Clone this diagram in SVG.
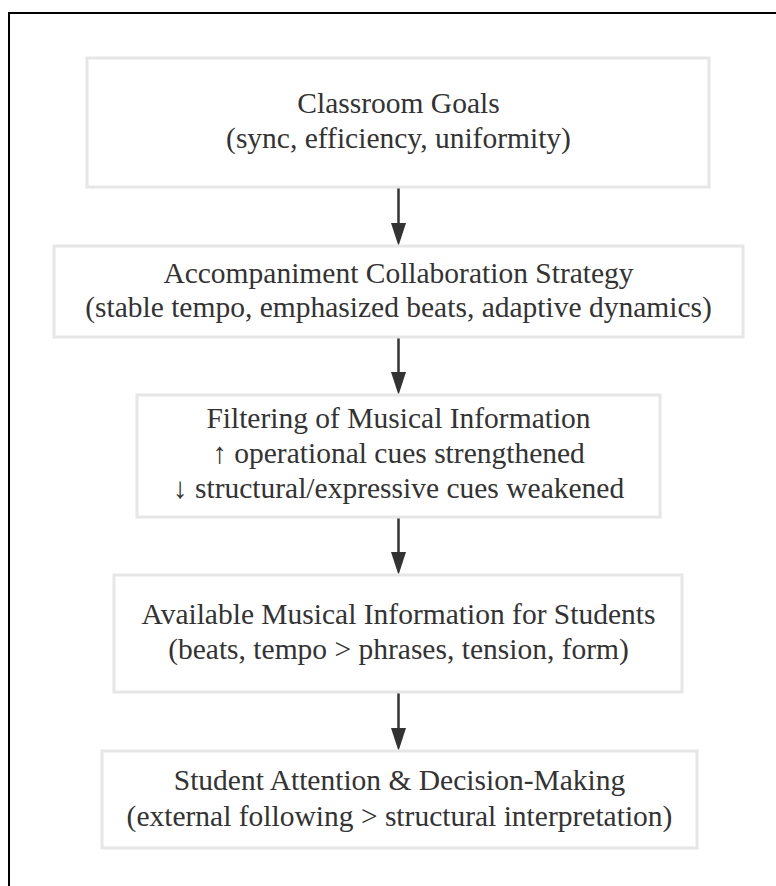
<svg xmlns="http://www.w3.org/2000/svg" width="776" height="886" viewBox="0 0 776 886">
<style>
.box{fill:#ffffff;stroke:#e6e6e6;stroke-width:3}
.t{font-family:"Liberation Serif","Times New Roman",serif;font-size:29.5px;fill:#333333;text-anchor:middle}
.edge{stroke:#333333;stroke-width:2.5;fill:none}
</style>
<defs>
<marker id="ah" markerUnits="userSpaceOnUse" markerWidth="16" markerHeight="24" refX="15" refY="8" orient="auto" viewBox="0 0 16 16">
<path d="M0,0 L15,8 L0,16 Z" fill="#333333"/>
</marker>
</defs>
<rect x="0" y="0" width="776" height="886" fill="#ffffff"/>
<rect x="9" y="13" width="800" height="900" fill="none" stroke="#000000" stroke-width="2"/>
<g id="connectors">
<path class="edge" d="M398.5,188 L398.5,224"/>
<path d="M391,223 L406,223 L398.5,246 Z" fill="#333333"/>
<path class="edge" d="M398.5,338 L398.5,373"/>
<path d="M391,372 L406,372 L398.5,395 Z" fill="#333333"/>
<path class="edge" d="M398.5,518 L398.5,553"/>
<path d="M391,552 L406,552 L398.5,575 Z" fill="#333333"/>
<path class="edge" d="M398.5,693 L398.5,729"/>
<path d="M391,728 L406,728 L398.5,751 Z" fill="#333333"/>
</g>
<g id="node1">
<rect class="box" x="87" y="58" width="622" height="129"/>
<text class="t" x="398.5" y="113">Classroom Goals</text>
<text class="t" x="398.5" y="148">(sync, efficiency, uniformity)</text>
</g>
<g id="node2">
<rect class="box" x="54" y="246" width="689" height="91"/>
<text class="t" x="398.5" y="283">Accompaniment Collaboration Strategy</text>
<text class="t" x="398.5" y="317">(stable tempo, emphasized beats, adaptive dynamics)</text>
</g>
<g id="node3">
<rect class="box" x="137" y="395" width="523" height="122"/>
<text class="t" x="398.5" y="428">Filtering of Musical Information</text>
<text class="t" x="398.5" y="463">↑ operational cues strengthened</text>
<text class="t" x="398.5" y="498">↓ structural/expressive cues weakened</text>
</g>
<g id="node4">
<rect class="box" x="114" y="575" width="568" height="117"/>
<text class="t" x="398.5" y="624">Available Musical Information for Students</text>
<text class="t" x="398.5" y="659">(beats, tempo &gt; phrases, tension, form)</text>
</g>
<g id="node5">
<rect class="box" x="102" y="751" width="595" height="97"/>
<text class="t" x="399.5" y="790">Student Attention &amp; Decision-Making</text>
<text class="t" x="399.5" y="826">(external following &gt; structural interpretation)</text>
</g>
</svg>
